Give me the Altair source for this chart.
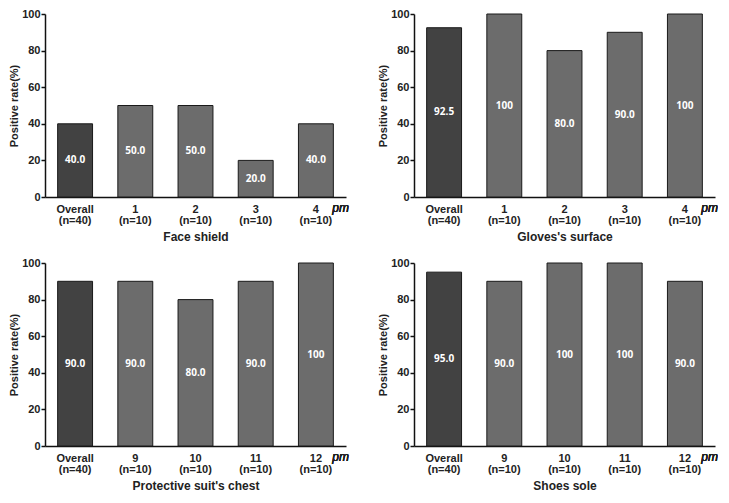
import altair as alt
import pandas as pd

titles = ["Face shield", "Gloves's surface", "Protective suit's chest", "Shoes sole"]
cats_a = ["Overall|(n=40)", "1|(n=10)", "2|(n=10)", "3|(n=10)", "4|(n=10)"]
cats_b = ["Overall|(n=40)", "9|(n=10)", "10|(n=10)", "11|(n=10)", "12|(n=10)"]
face_shield = [40.0, 50.0, 50.0, 20.0, 40.0]
gloves = [92.5, 100, 80.0, 90.0, 100]
suit_chest = [90.0, 90.0, 80.0, 90.0, 100]
shoes_sole = [95.0, 90.0, 100, 100, 90.0]

FONT = "Liberation Sans"
W, H = 301, 183


def panel(title, cats, vals):
    df = pd.DataFrame({
        "cat": cats,
        "val": vals,
        "grp": ["overall"] + ["pm"] * (len(cats) - 1),
        "lab": [("100" if v == 100 else f"{v:.1f}") for v in vals],
    })
    base = alt.Chart(df)
    xaxis = alt.Axis(title=title, labelAngle=0, ticks=False,
                     labelExpr="split(datum.value, '|')",
                     labelFont=FONT, labelFontWeight="bold", labelFontSize=11,
                     labelLineHeight=11.5, labelColor="#222",
                     labelPadding=6,
                     titleFont=FONT, titleFontWeight="bold", titleFontSize=12,
                     titlePadding=6, titleColor="#222",
                     domainColor="#111", domainWidth=1.5)
    yaxis = alt.Axis(title="Positive rate(%)", values=[0, 20, 40, 60, 80, 100],
                     grid=False, tickSize=4, tickColor="#111", tickWidth=1.5,
                     domainColor="#111", domainWidth=1.5,
                     labelOverlap=False, labelBound=False, labelFlush=False,
                     labelFont=FONT, labelFontWeight="bold", labelFontSize=11,
                     labelColor="#222", labelPadding=1,
                     titleFont=FONT, titleFontWeight="bold", titleFontSize=11,
                     titleColor="#222", titlePadding=2)
    xscale = alt.Scale(paddingInner=0.42, paddingOuter=0.21)
    yscale = alt.Scale(domain=[0, 100], nice=False)
    bars = base.mark_bar(stroke="#1a1a1a", strokeWidth=1).encode(
        x=alt.X("cat:N", sort=cats, scale=xscale, axis=xaxis),
        y=alt.Y("val:Q", scale=yscale, axis=yaxis),
        color=alt.Color("grp:N", scale=alt.Scale(domain=["overall", "pm"],
                                                 range=["#424242", "#6c6c6c"]),
                        legend=None))
    text = base.transform_calculate(mid="datum.val / 2").mark_text(
        color="white", font="Open Sans", fontWeight="bold", fontSize=10, baseline="middle"
    ).encode(x=alt.X("cat:N", sort=cats, scale=xscale, axis=xaxis),
             y=alt.Y("mid:Q", scale=yscale, axis=yaxis),
             text="lab:N")
    pm = base.mark_text(text="pm", font=FONT, fontStyle="italic", fontSize=12,
                        color="#222", align="right", baseline="middle").encode(
        x=alt.value(W + 3), y=alt.value(H + 11))
    return alt.layer(bars, text, pm).properties(width=W, height=H)


top = alt.hconcat(panel(titles[0], cats_a, face_shield),
                  panel(titles[1], cats_a, gloves), spacing=28)
bottom = alt.hconcat(panel(titles[2], cats_b, suit_chest),
                     panel(titles[3], cats_b, shoes_sole), spacing=28)
chart = alt.vconcat(top, bottom, spacing=14).configure_view(stroke=None).properties(
    padding=0)

chart.save("out.html", embed_options={"renderer": "svg", "actions": False})
